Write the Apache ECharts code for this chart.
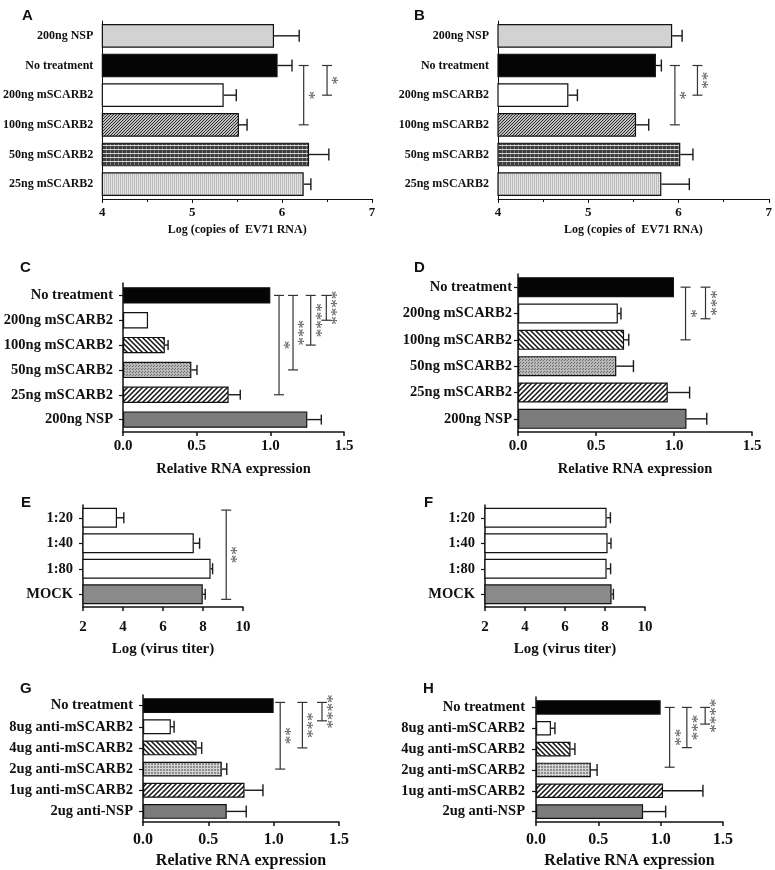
<!DOCTYPE html>
<html><head><meta charset="utf-8">
<script src="https://cdn.jsdelivr.net/npm/echarts@6/dist/echarts.min.js"></script>
<style>html,body{margin:0;padding:0;background:#fff}#c{width:775px;height:870px}</style>
</head><body><div id="c"></div>
<script>
// ---------- DATA ----------
const catsAB = ['200ng NSP','No treatment','200ng mSCARB2','100ng mSCARB2','50ng mSCARB2','25ng mSCARB2'];
const valA = [5.91, 5.95, 5.35, 5.52, 6.30, 6.24];
const errA = [6.19, 6.11, 5.49, 5.61, 6.52, 6.32];
const brXA = [6.24, 6.50], brFromA = [1, 1], brToA = [3, 2], starsA = ['*', '*'];
const valB = [5.93, 5.75, 4.78, 5.53, 6.02, 5.81];
const errB = [6.04, 5.81, 4.88, 5.67, 6.16, 6.12];
const brXB = [5.96, 6.21], brFromB = [1, 1], brToB = [3, 2], starsB = ['*', '**'];

const catsCD = ['No treatment','200ng mSCARB2','100ng mSCARB2','50ng mSCARB2','25ng mSCARB2','200ng NSP'];
const valC = [1.00, 0.17, 0.284, 0.464, 0.717, 1.251];
const errC = [null, null, 0.306, 0.502, 0.796, 1.346];
const brXC = [1.059, 1.154, 1.274, 1.380], brFromC = [0, 0, 0, 0], brToC = [4, 3, 2, 1], starsC = ['*', '***', '****', '****'];
const valD = [1.00, 0.64, 0.68, 0.63, 0.96, 1.08];
const errD = [null, 0.66, 0.71, 0.74, 1.10, 1.21];
const brXD = [1.074, 1.202], brFromD = [0, 0], brToD = [2, 1.2], starsD = ['*', '***'];

const catsEF = ['1:20', '1:40', '1:80', 'MOCK'];
const valE = [3.70, 7.54, 8.38, 7.99];
const errE = [4.04, 7.83, 8.48, 8.11];
const brXE = [9.16], brFromE = [-0.3], brToE = [3.2], starsE = ['**'];
const valF = [8.08, 8.13, 8.08, 8.33];
const errF = [8.27, 8.30, 8.28, 8.42];

const catsGH = ['No treatment','8ug anti-mSCARB2','4ug anti-mSCARB2','2ug anti-mSCARB2','1ug anti-mSCARB2','2ug anti-NSP'];
const valG = [1.00, 0.213, 0.41, 0.603, 0.777, 0.641];
const errG = [null, 0.238, 0.449, 0.641, 0.918, 0.79];
const brXG = [1.05, 1.22, 1.37], brFromG = [-0.15, -0.15, -0.15], brToG = [3, 2, 0.72], starsG = ['**', '***', '****'];
const valH = [1.00, 0.12, 0.277, 0.44, 1.019, 0.859];
const errH = [null, 0.152, 0.312, 0.49, 1.339, 1.04];
const brXH = [1.072, 1.21, 1.357], brFromH = [0, 0, 0], brToH = [2.87, 1.93, 0.8], starsH = ['**', '***', '****'];

// axis ranges [min, max, interval]
const axisAB = [4, 7, 1];
const axisCD = [0, 1.5, 0.5];
const axisEF = [2, 10, 2];
const axisGH = [0, 1.5, 0.5];

// ---------- PATTERNS ----------
function cv(w, h, fn) { const c = document.createElement('canvas'); c.width = w; c.height = h; const g = c.getContext('2d'); fn(g, w, h); return c; }
function hatch(s, dir, lw, bg, fg) {
  return cv(s, s, (g) => {
    g.fillStyle = bg; g.fillRect(0, 0, s, s);
    g.strokeStyle = fg; g.lineWidth = lw; g.beginPath();
    if (dir > 0) { g.moveTo(-1, s + 1); g.lineTo(s + 1, -1); g.moveTo(-1, 1); g.lineTo(1, -1); g.moveTo(s - 1, s + 1); g.lineTo(s + 1, s - 1); }
    else { g.moveTo(-1, -1); g.lineTo(s + 1, s + 1); g.moveTo(s - 1, -1); g.lineTo(s + 1, 1); g.moveTo(-1, s - 1); g.lineTo(1, s + 1); }
    g.stroke();
  });
}
const P = {
  black: '#050505', white: '#ffffff', lightgray: '#d2d2d2', darkgray: '#7c7c7c', midgray: '#8a8a8a',
  hatchFwdDense: { image: hatch(3, 1, 1.1, '#ffffff', '#222'), repeat: 'repeat' },
  hatchFwd: { image: hatch(5, 1, 1.5, '#ffffff', '#111'), repeat: 'repeat' },
  hatchBack: { image: hatch(5, -1, 1.5, '#ffffff', '#111'), repeat: 'repeat' },
  plaid: { image: cv(4, 4, (g) => { g.fillStyle = '#3c3c3c'; g.fillRect(0, 0, 4, 4); g.fillStyle = '#7a7a7a'; g.fillRect(2, 0, 1, 4); g.fillStyle = '#d8d8d8'; g.fillRect(0, 1, 4, 1); }), repeat: 'repeat' },
  vstripe: { image: cv(2, 2, (g) => { g.fillStyle = '#bdbdbd'; g.fillRect(0, 0, 2, 2); g.fillStyle = '#e2e2e2'; g.fillRect(1, 0, 1, 2); }), repeat: 'repeat' },
  dots: { image: cv(3, 3, (g) => { g.fillStyle = '#b8b8b8'; g.fillRect(0, 0, 3, 3); g.fillStyle = '#6a6a6a'; g.fillRect(0, 0, 1, 1); g.fillRect(1, 2, 1, 1); }), repeat: 'repeat' },
  gridpat: { image: cv(3, 3, (g) => { g.fillStyle = '#8e8e8e'; g.fillRect(0, 0, 3, 3); g.fillStyle = '#d4d4d4'; g.fillRect(0, 0, 1, 3); g.fillRect(0, 0, 3, 1); }), repeat: 'repeat' }
};

// ---------- PANELS ----------
const FF = 'Liberation Serif';
const panels = [
  { L: 'A', lx: 22, ly: 8, cats: catsAB, val: valA, err: errA, br: [brXA, brFromA, brToA, starsA], ax: axisAB,
    styles: ['lightgray','black','white','hatchFwdDense','plaid','vstripe'],
    grid: { left: 101, top: 21, width: 271, height: 178 }, barW: '80%', yFs: 12, yMargin: 9, yTicks: false,
    xFs: 13, xMargin: 7, name: 'Log (copies of  EV71 RNA)', nFs: 12, nGap: 25, minor: true, cap: 12, aw: 1 },
  { L: 'B', lx: 414, ly: 8, cats: catsAB, val: valB, err: errB, br: [brXB, brFromB, brToB, starsB], ax: axisAB,
    styles: ['lightgray','black','white','hatchFwdDense','plaid','vstripe'],
    grid: { left: 498, top: 21, width: 273, height: 178 }, barW: '80%', yFs: 12, yMargin: 9, yTicks: false,
    xFs: 13, xMargin: 7, name: 'Log (copies of  EV71 RNA)', nFs: 12, nGap: 25, minor: true, cap: 12, aw: 1 },
  { L: 'C', lx: 20, ly: 260, cats: catsCD, val: valC, err: errC, br: [brXC, brFromC, brToC, starsC], ax: axisCD,
    styles: ['black','white','hatchBack','dots','hatchFwd','darkgray'],
    grid: { left: 123, top: 283, width: 221, height: 149 }, barW: '66%', yFs: 14.5, yMargin: 10, yTicks: true,
    xFs: 15, xMargin: 7, name: 'Relative RNA expression', nFs: 14.5, nGap: 30, minor: false, cap: 10, aw: 1.5, fmt: 1 },
  { L: 'D', lx: 414, ly: 260, cats: catsCD, val: valD, err: errD, br: [brXD, brFromD, brToD, starsD], ax: axisCD,
    styles: ['black','white','hatchBack','dots','hatchFwd','darkgray'],
    grid: { left: 518, top: 274, width: 234, height: 158 }, barW: '76%', yFs: 14.5, yMargin: 6, yTicks: true,
    xFs: 15, xMargin: 7, name: 'Relative RNA expression', nFs: 14.5, nGap: 30, minor: false, cap: 12, aw: 1.5, fmt: 1 },
  { L: 'E', lx: 21, ly: 495, cats: catsEF, val: valE, err: errE, br: [brXE, brFromE, brToE, starsE], ax: axisEF,
    styles: ['white','white','white','midgray'],
    grid: { left: 83, top: 505, width: 160, height: 102 }, barW: '78%', yFs: 14.5, yMargin: 10, yTicks: true,
    xFs: 15, xMargin: 13, name: 'Log (virus titer)', nFs: 15, nGap: 35, minor: false, cap: 11, aw: 1.5 },
  { L: 'F', lx: 424, ly: 495, cats: catsEF, val: valF, err: errF, br: null, ax: axisEF,
    styles: ['white','white','white','midgray'],
    grid: { left: 485, top: 505, width: 160, height: 102 }, barW: '78%', yFs: 14.5, yMargin: 10, yTicks: true,
    xFs: 15, xMargin: 13, name: 'Log (virus titer)', nFs: 15, nGap: 35, minor: false, cap: 11, aw: 1.5 },
  { L: 'G', lx: 20, ly: 681, cats: catsGH, val: valG, err: errG, br: [brXG, brFromG, brToG, starsG], ax: axisGH,
    styles: ['black','white','hatchBack','gridpat','hatchFwd','darkgray'],
    grid: { left: 143, top: 695, width: 196, height: 129 }, barW: '70%', yFs: 14.5, yMargin: 10, yTicks: true,
    xFs: 16, xMargin: 10, name: 'Relative RNA expression', nFs: 16, nGap: 31, minor: false, cap: 12, aw: 1.5, fmt: 1 },
  { L: 'H', lx: 423, ly: 681, cats: catsGH, val: valH, err: errH, br: [brXH, brFromH, brToH, starsH], ax: axisGH,
    styles: ['black','white','hatchBack','gridpat','hatchFwd','darkgray'],
    grid: { left: 536, top: 697, width: 187, height: 127 }, barW: '70%', yFs: 14.5, yMargin: 11, yTicks: true,
    xFs: 16, xMargin: 10, name: 'Relative RNA expression', nFs: 16, nGap: 31, minor: false, cap: 12, aw: 1.5, fmt: 1 }
];

const option = { backgroundColor: '#fff', animation: false, title: [], grid: [], xAxis: [], yAxis: [], series: [] };

panels.forEach((p, i) => {
  option.title.push({ text: p.L, left: p.lx, top: p.ly, padding: 0,
    textStyle: { fontFamily: 'Liberation Sans', fontWeight: 'bold', fontSize: 15, color: '#111' } });
  option.grid.push(Object.assign({ containLabel: false }, p.grid));
  const axLine = { show: true, lineStyle: { color: '#111', width: p.aw } };
  option.xAxis.push({
    gridIndex: i, type: 'value', min: p.ax[0], max: p.ax[1], interval: p.ax[2],
    axisLine: axLine, axisTick: { show: true, length: 4, lineStyle: { color: '#111', width: p.aw } },
    minorTick: { show: p.minor, splitNumber: 2, length: 3, lineStyle: { color: '#111', width: 1 } },
    splitLine: { show: false },
    axisLabel: { margin: p.xMargin, color: '#111', fontFamily: FF, fontWeight: 'bold', fontSize: p.xFs,
      formatter: p.fmt ? (v) => v.toFixed(1) : (v) => String(v) },
    name: p.name, nameLocation: 'middle', nameGap: p.nGap,
    nameTextStyle: { color: '#111', fontFamily: FF, fontWeight: 'bold', fontSize: p.nFs }
  });
  option.yAxis.push({
    gridIndex: i, type: 'category', data: p.cats, inverse: true,
    axisLine: axLine,
    axisTick: { show: p.yTicks, alignWithLabel: true, length: 4, lineStyle: { color: '#111', width: 1.2 } },
    axisLabel: { margin: p.yMargin, color: '#111', fontFamily: FF, fontWeight: 'bold', fontSize: p.yFs }
  });
  option.series.push({
    type: 'bar', xAxisIndex: i, yAxisIndex: i, barWidth: p.barW, silent: true, z: 3,
    itemStyle: { borderColor: '#111', borderWidth: 1.2 },
    data: p.val.map((v, j) => ({ value: v, itemStyle: { color: P[p.styles[j]] } }))
  });
  const eData = [];
  p.err.forEach((e, j) => { if (e != null) eData.push([p.val[j], e, j]); });
  option.series.push({
    type: 'custom', xAxisIndex: i, yAxisIndex: i, silent: true, z: 2,
    encode: { x: [0, 1], y: 2 }, data: eData,
    renderItem: (params, api) => {
      const a = api.coord([api.value(0), api.value(2)]);
      const b = api.coord([api.value(1), api.value(2)]);
      const h = p.cap / 2;
      const st = { stroke: '#1a1a1a', lineWidth: 1.4 };
      return { type: 'group', children: [
        { type: 'line', shape: { x1: a[0], y1: a[1], x2: b[0], y2: b[1] }, style: st },
        { type: 'line', shape: { x1: b[0], y1: b[1] - h, x2: b[0], y2: b[1] + h }, style: st }
      ] };
    }
  });
  if (p.br) {
    const [bx, bf, bt, bs] = p.br;
    option.series.push({
      type: 'custom', xAxisIndex: i, yAxisIndex: i, silent: true, z: 4,
      encode: { x: 0, y: [1, 2] }, data: bx.map((x, k) => [x, bf[k], bt[k]]),
      renderItem: (params, api) => {
        const base = api.coord([api.value(0), 0]);
        const band = api.size([0, 1])[1];
        const x = base[0];
        const y1 = base[1] + api.value(1) * band, y2 = base[1] + api.value(2) * band;
        const st = { stroke: '#333', lineWidth: 1.2 };
        return { type: 'group', children: [
          { type: 'line', shape: { x1: x, y1: y1, x2: x, y2: y2 }, style: st },
          { type: 'line', shape: { x1: x - 5, y1: y1, x2: x + 5, y2: y1 }, style: st },
          { type: 'line', shape: { x1: x - 5, y1: y2, x2: x + 5, y2: y2 }, style: st },
          { type: 'text', x: x + 4.5, y: (y1 + y2) / 2, rotation: -Math.PI / 2,
            style: { text: bs[params.dataIndex], fill: '#555', fontFamily: FF, fontSize: 17, align: 'center', verticalAlign: 'middle' } }
        ] };
      }
    });
  }
});

const chart = echarts.init(document.getElementById('c'), null, { renderer: 'canvas', width: 775, height: 870 });
chart.setOption(option);
</script>
</body></html>
